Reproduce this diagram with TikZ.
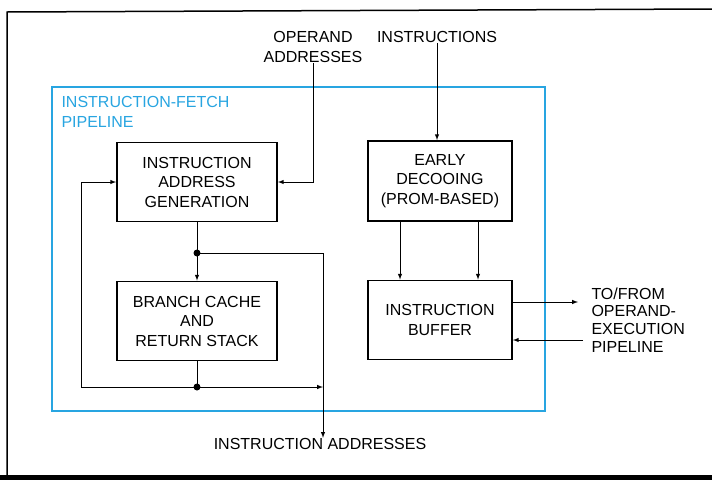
\documentclass[tikz,border=0pt]{standalone}
\usepackage{fontspec}
\setmainfont{Liberation Sans}
\usepackage{tikz}
\usetikzlibrary{shapes,arrows,positioning,calc}
\definecolor{fetchblue}{RGB}{40,165,225}

\begin{document}
\begin{tikzpicture}[x=1pt,y=-1pt,
	font=\fontsize{16}{19.5}\selectfont, line width=1pt,
	blok/.style={draw, line width=1.8pt, align=center, inner sep=0pt, minimum width=160pt, minimum height=79pt},
	lbl/.style={align=center, inner sep=0pt}]
						\useasboundingbox (0,0) rectangle (712,480);
						\fill[white] (0,0) rectangle (712,480);
						% outer frame
						\draw[line width=1.5pt] (712,9) -- (7,12) -- (7,476);
						\fill[black] (0,475) rectangle (712,480);
						% fetch pipeline
						\draw[fetchblue, line width=2.5pt] (52,87) rectangle (545,411);
						\node[lbl, align=left, anchor=north west, text=fetchblue] (fetch) at (61,96) {INSTRUCTION-FETCH\\PIPELINE};
						% blocks
						\node[blok] (iag) at (197,182) {INSTRUCTION\\ADDRESS\\GENERATION};
						\node[blok] (bc) at (197,321) {BRANCH CACHE\\AND\\RETURN STACK};
						\node[blok, minimum width=144pt, minimum height=80pt] (ed) at (440,181) {EARLY\\DECOOING\\(PROM-BASED)};
						\node[blok, minimum width=144pt] (ib) at (440,320) {INSTRUCTION\\BUFFER};
						% labels
						\node[lbl] (opaddr) at (313,47) {OPERAND\\ADDRESSES};
						\node[lbl] (instr) at (437,37) {INSTRUCTIONS};
						\node[lbl] (iaddr) at (320,444) {INSTRUCTION ADDRESSES};
						\node[lbl, align=left, anchor=west, font=\fontsize{16}{17.7}\selectfont] (tofrom) at (591,320) {TO/FROM\\OPERAND-\\EXECUTION\\PIPELINE};
						% junctions
						\coordinate (tdot) at (197,253);
						\coordinate (bdot) at (197,387);
						\coordinate (lcorner) at (81,387);
						\coordinate (rtop) at (323,253);
						\coordinate (outtip) at (578,302);
						\coordinate (instart) at (583,340);
						% connectors
						\draw[-latex] (opaddr.south) |- (iag.east);
						\draw[-latex] (instr.south) -- (instr.south |- ed.north);
						\draw (iag) -- (tdot);
						\draw[-latex] (tdot) -- (bc);
						\draw[-latex] (tdot) -- (rtop) -- (rtop |- iaddr.north);
						\draw (bc) -- (bdot);
						\draw[-latex] (lcorner) -- (lcorner -| rtop);
						\draw[-latex] (lcorner) |- (iag.west);
						\foreach \dx in {-40,38} {
							\draw[-latex] ([xshift=\dx pt]ed.south) -- ([xshift=\dx pt]ib.north);
						}
						\draw[-latex] (ib.east |- outtip) -- (outtip);
						\draw[-latex] (instart) -- (instart -| ib.east);
						\fill (tdot) circle (3.5);
						\fill (bdot) circle (3.5);
					\end{tikzpicture}
\end{document}
